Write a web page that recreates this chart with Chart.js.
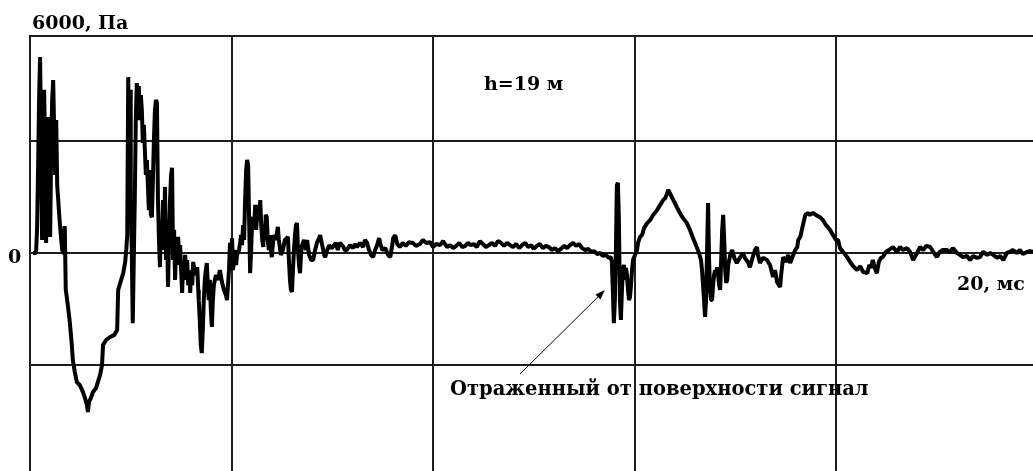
<!DOCTYPE html>
<html>
<head>
<meta charset="utf-8">
<script src="https://cdn.jsdelivr.net/npm/chart.js@4"></script>
<style>
html,body{margin:0;padding:0;background:#fff;overflow:hidden}
canvas{display:block}
</style>
</head>
<body>
<canvas id="c" width="1033" height="471"></canvas>
<script>
// ---- data: pressure signal (Pa) vs time (ms) ----
const timeMsA = [0.06,0.12,0.14,0.16,0.18,0.20,0.22,0.24,0.26,0.28,0.30,0.32,0.34,0.36,0.38,0.40,0.42,0.44,0.46,0.48,0.50,0.52,0.54,0.56,0.58,0.60,0.62,0.64,0.66,0.67,0.69,0.71,0.73,0.75,0.79,0.83,0.85,0.89,0.93,0.99,1.05,1.09,1.13,1.15,1.17,1.21,1.25,1.31,1.39,1.43,1.45,1.51,1.59,1.67,1.73,1.75,1.81,1.85,1.89,1.91,1.93,1.95];
const pressurePaA = [0,0,620,2220,4100,5250,3030,350,1960,4370,2760,270,1960,3640,1420,430,2760,4100,4630,3290,2090,3560,1820,1420,1020,670,350,80,0,480,720,-990,-1180,-1390,-1850,-2460,-2870,-3190,-3460,-3540,-3720,-3880,-4070,-4260,-3990,-3880,-3720,-3620,-3270,-3000,-2460,-2330,-2250,-2200,-2060,-990,-720,-540,-240,80,480,4710];

const timeMsB = [1.97,1.99,2.00,2.02,2.04,2.06,2.08,2.10,2.12,2.14,2.16,2.18,2.20,2.22,2.24,2.26,2.28,2.30,2.32,2.34,2.36,2.38,2.40,2.42,2.44,2.46,2.48,2.50,2.52,2.54,2.56,2.58,2.60,2.62,2.64,2.66,2.68,2.70,2.72,2.74,2.76,2.78,2.80,2.82,2.84,2.86,2.88,2.90,2.92,2.94,2.96,2.98,3.00,3.02,3.04,3.06,3.08,3.10,3.12,3.14,3.16,3.18,3.20,3.22,3.24,3.28,3.32,3.34,3.35,3.37,3.39,3.41,3.43,3.45,3.47,3.49,3.51,3.53,3.55,3.57,3.59,3.61,3.63,3.65,3.69,3.73,3.77,3.81,3.85,3.89,3.91,3.93,3.95];
const pressurePaB = [2490,4370,1420,80,-1880,-190,1420,3560,4550,4100,4470,3560,4230,3830,2950,3430,2760,2090,2490,1820,1150,2220,1020,960,1960,3030,3830,4100,4020,1420,350,-380,880,80,1420,620,1770,-190,620,-910,350,1420,2090,2280,-190,620,-720,210,-320,430,-50,210,-460,-1070,-320,-720,-50,-460,-190,-860,-460,-1070,-460,-860,-240,-590,-380,-990,-1260,-1790,-2460,-2680,-2060,-1260,-720,-460,-270,-860,-1260,-720,-1530,-1980,-1260,-860,-590,-720,-460,-780,-990,-1130,-1260,-860,-460];

const timeMsC = [3.97,3.99,4.01,4.03,4.05,4.07,4.09,4.11,4.15,4.17,4.19,4.21,4.23,4.25,4.27,4.29,4.31,4.33,4.35,4.37,4.39,4.41,4.43,4.45,4.47,4.49,4.51,4.53,4.55,4.57,4.59,4.61,4.63,4.65,4.66,4.68,4.70,4.72,4.74,4.76,4.78,4.80,4.82,4.84,4.88,4.92,4.94,4.98,5.02,5.06,5.10,5.12,5.14,5.16,5.18,5.20,5.22,5.24,5.26,5.28,5.30,5.32,5.34,5.36,5.38,5.40,5.44,5.48,5.50,5.54,5.58,5.62,5.66,5.70,5.74,5.76,5.80,5.84,5.86,5.90,5.94,5.98,6.01,6.07,6.11,6.15,6.21,6.25,6.29,6.35,6.41,6.45,6.49,6.55,6.61,6.65,6.69,6.73,6.77,6.81,6.85,6.89,6.93,6.95,6.99,7.05,7.11,7.15,7.19,7.21,7.25,7.29,7.34,7.40,7.46,7.52,7.60,7.66,7.74,7.80,7.86,7.94,8.00,8.06,8.14,8.20];
const pressurePaC = [270,-130,400,-460,-190,80,-320,-50,80,270,480,210,750,350,1420,2220,2490,2360,880,-540,80,880,960,620,1290,620,1020,1290,880,1420,750,350,160,750,350,1020,960,350,80,480,80,-110,210,480,350,700,350,-50,80,350,400,430,-190,-720,-990,-1040,-460,80,480,750,800,80,-320,-540,-50,210,350,80,350,-50,-190,-190,80,290,400,480,210,-50,-110,80,210,130,160,270,80,270,190,80,80,210,130,240,160,270,160,350,270,80,-50,-110,80,210,400,270,80,130,-50,-110,210,400,480,240,160,270,190,290,270,190,240,350,270,290,160,240,210,320];

const timeMsD = [8.28,8.34,8.40,8.46,8.52,8.58,8.64,8.69,8.75,8.81,8.87,8.93,8.99,9.05,9.11,9.17,9.23,9.29,9.35,9.41,9.47,9.53,9.59,9.65,9.71,9.77,9.83,9.89,9.95,10.00,10.06,10.12,10.18,10.24,10.30,10.36,10.42,10.48,10.54,10.60,10.66,10.72,10.78,10.84,10.90,10.96,11.02,11.08,11.14,11.20,11.26,11.32,11.37,11.43,11.49,11.53];
const pressurePaD = [160,210,130,190,270,160,190,270,210,240,160,320,240,160,210,270,190,320,270,190,270,210,160,240,130,210,270,160,210,110,190,240,130,190,160,80,130,50,110,190,130,210,270,190,240,130,80,110,30,50,-30,0,-80,-50,-130,-110];

const timeMsE = [11.55,11.57,11.59,11.61,11.63,11.65,11.67,11.69,11.71,11.73,11.75,11.77,11.79,11.81,11.83,11.85,11.87,11.89,11.91,11.93,11.95,11.97,12.01,12.05,12.07,12.11,12.15,12.19,12.25,12.31,12.37,12.45,12.51,12.57,12.61,12.65,12.67,12.70,12.74,12.80,12.84,12.90,12.96,13.04,13.10,13.16,13.22,13.28,13.32,13.34,13.36,13.38,13.40,13.42,13.44,13.46,13.48,13.50,13.52,13.54,13.56,13.58,13.60,13.62,13.64,13.66,13.68,13.70,13.72,13.74,13.76,13.78,13.80,13.82,13.84,13.86,13.90,13.94,13.98,14.03,14.09,14.15,14.19,14.25,14.29,14.33,14.39,14.43,14.45,14.49,14.55,14.63,14.69,14.75,14.79,14.83,14.89,14.91,14.95,15.01,15.05,15.09,15.15,15.19,15.23,15.25,15.29,15.33,15.39,15.44,15.48,15.54,15.60,15.68,15.74,15.80,15.88];
const pressurePaE = [-240,-990,-1880,-1260,80,1820,1880,880,-1260,-1790,-990,-460,-320,-720,-400,-590,-990,-1260,-1180,-860,-460,-190,-50,80,270,430,480,670,800,880,1020,1150,1290,1420,1470,1610,1690,1610,1500,1340,1230,1070,940,800,620,400,210,0,-190,-460,-860,-1260,-1710,-1260,80,1340,-190,-990,-1260,-1260,-860,-590,-460,-590,-380,-590,-860,-990,-190,620,1020,350,-460,-800,-720,-320,-50,80,-130,-270,-130,0,-130,-240,-380,-190,80,160,-50,-270,-130,-190,-320,-640,-460,-780,-910,-590,-110,-240,-50,-270,-50,80,160,350,430,670,1020,1070,1020,1070,1020,960,880,750,620];

const timeMsF = [15.94,16.00,16.04,16.08,16.14,16.22,16.28,16.34,16.42,16.48,16.54,16.62,16.66,16.69,16.73,16.77,16.81,16.85,16.89,16.93,16.99,17.05,17.13,17.21,17.27,17.33,17.41,17.47,17.53,17.59,17.67,17.73,17.79,17.87,17.93,18.00,18.06,18.12,18.20,18.26,18.32,18.40,18.46,18.52,18.60,18.66,18.72,18.80,18.86,18.92,19.00,19.06,19.12,19.20,19.26,19.32,19.39,19.45,19.51,19.59,19.65,19.71,19.79,19.85,19.91];
const pressurePaF = [480,350,350,130,30,-110,-240,-350,-460,-350,-510,-540,-320,-400,-190,-400,-540,-240,-130,-110,30,80,160,30,160,80,130,30,-190,-50,160,80,190,160,30,-110,30,80,80,30,130,0,-50,-110,-80,-190,-80,-130,-110,30,-50,0,-50,-130,-80,-190,0,30,80,0,80,-30,30,50,30];

// ---- axes ----
const xGridTicks = [0, 4, 8, 12, 16];      // ms
const yGridTicks = [-3000, 0, 3000];       // Pa
const xMin = 0, xMax = 19.91;
const yMin = -5839, yMax = 5812;

// ---- texts ----
const txtYUnit = '6000, Па';
const txtZero = '0';
const txtXUnit = '20, мс';
const txtDepth = 'h=19 м';
const txtNote = 'Отраженный от поверхности сигнал';

const timeMs = [].concat(timeMsA, timeMsB, timeMsC, timeMsD, timeMsE, timeMsF);
const pressurePa = [].concat(pressurePaA, pressurePaB, pressurePaC, pressurePaD, pressurePaE, pressurePaF);
const points = timeMs.map((t, i) => ({x: t, y: pressurePa[i]}));

const gridColor = '#1e1e1e';
const FONT = 'bold 19px "DejaVu Serif"';
const FONT_NOTE = 'bold 19.5px "DejaVu Serif"';

const bgPlugin = {
  id: 'bg',
  beforeDraw(chart) {
    const c = chart.ctx;
    c.save(); c.fillStyle = '#fff'; c.fillRect(0, 0, chart.width, chart.height); c.restore();
  }
};

const annotPlugin = {
  id: 'annot',
  afterDraw(chart) {
    const c = chart.ctx, a = chart.chartArea, ys = chart.scales.y;
    const y0 = ys.getPixelForValue(0);
    c.save();
    c.fillStyle = '#000';
    c.font = FONT;
    c.textAlign = 'left';
    c.textBaseline = 'alphabetic';
    c.fillText(txtYUnit, a.left + 2, a.top - 7);
    c.fillText(txtZero, 8, y0 + 10);
    c.fillText(txtDepth, 484, 90);
    c.fillText(txtXUnit, 957, y0 + 37);
    c.font = FONT_NOTE;
    c.fillText(txtNote, 450, 395);
    // arrow to the reflected signal
    const x1 = 520, y1 = 374, x2 = 605, y2 = 290;
    const dx = x2 - x1, dy = y2 - y1, L = Math.hypot(dx, dy);
    const ux = dx / L, uy = dy / L, px = -uy, py = ux;
    const hl = 10, hw = 3.5;
    c.strokeStyle = '#000'; c.lineWidth = 1;
    c.beginPath(); c.moveTo(x1, y1); c.lineTo(x2 - ux * hl * 0.8, y2 - uy * hl * 0.8); c.stroke();
    c.beginPath();
    c.moveTo(x2, y2);
    c.lineTo(x2 - ux * hl + px * hw, y2 - uy * hl + py * hw);
    c.lineTo(x2 - ux * hl - px * hw, y2 - uy * hl - py * hw);
    c.closePath(); c.fill();
    c.restore();
  }
};

new Chart(document.getElementById('c'), {
  type: 'line',
  data: {
    datasets: [{
      data: points,
      borderColor: '#000',
      borderWidth: 4,
      pointRadius: 0,
      tension: 0,
      fill: false,
      borderJoinStyle: 'bevel'
    }]
  },
  options: {
    responsive: false,
    animation: false,
    devicePixelRatio: 1,
    events: [],
    layout: {padding: {left: 30, top: 36, right: 0, bottom: 0}},
    plugins: {legend: {display: false}, tooltip: {enabled: false}, title: {display: false}},
    scales: {
      x: {
        type: 'linear', position: 'top', min: xMin, max: xMax,
        afterBuildTicks: s => { s.ticks = xGridTicks.map(v => ({value: v})); },
        ticks: {display: false},
        grid: {color: gridColor, lineWidth: 2, drawTicks: false},
        border: {display: true, color: gridColor, width: 2}
      },
      y: {
        type: 'linear', position: 'left', min: yMin, max: yMax,
        afterBuildTicks: s => { s.ticks = yGridTicks.map(v => ({value: v})); },
        ticks: {display: false},
        grid: {color: gridColor, lineWidth: 2, drawTicks: false},
        border: {display: true, color: gridColor, width: 2}
      }
    }
  },
  plugins: [bgPlugin, annotPlugin]
});
</script>
</body>
</html>
